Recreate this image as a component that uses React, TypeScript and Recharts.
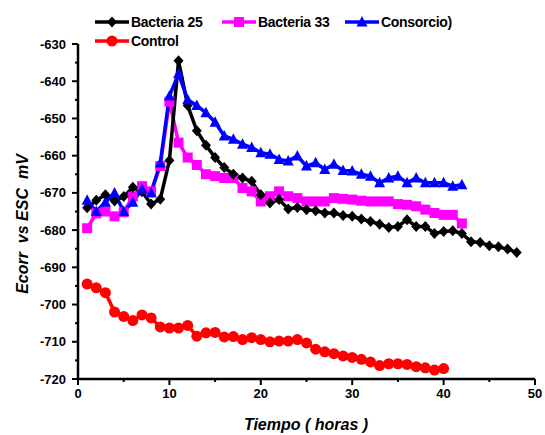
import { Line, LineChart, XAxis, YAxis } from 'recharts';

const hours = [
  1, 2, 3, 4, 5, 6, 7, 8, 9, 10, 11, 12, 13, 14, 15, 16, 17, 18, 19, 20, 21, 22, 23, 24,
  25, 26, 27, 28, 29, 30, 31, 32, 33, 34, 35, 36, 37, 38, 39, 40, 41, 42, 43, 44, 45, 46, 47, 48,
];

const bacteria25 = [
  -674, -672, -670.5, -672.2, -671, -668.5, -669.7, -673, -671.7, -661.3,
  -634.5, -646.5, -653.3, -657.2, -660.5, -663.2, -665, -666, -666.9, -670.5,
  -672.7, -671.8, -674.3, -673.9, -674.5, -674.8, -675.4, -675.4, -676.1, -676.3,
  -677, -677.7, -678.4, -679.3, -679, -677.2, -679, -679, -680.9, -680.4,
  -680.2, -680.9, -683.1, -683.3, -684.2, -684.5, -685.1, -686,
];

const bacteria33 = [
  -679.5, -675.5, -675, -676.3, -675.2, -671, -668.2, -669.6, -662.8, -645.5,
  -656.5, -660.5, -662.5, -665, -665.5, -666, -666, -668.7, -669.6, -672.3,
  -670.9, -669.6, -670.9, -671.4, -672.3, -672.3, -672.3, -671.4, -671.6, -671.8,
  -672.1, -672.3, -672.3, -672.3, -673, -673.2, -673.6, -674.5, -675.4, -675.9,
  -675.9, -678.2,
];

const consorcio = [
  -672, -675, -672.5, -670, -675, -672.5, -669, -670, -662, -644,
  -638, -645, -646.5, -648.5, -651, -654.7, -655.6, -656.9, -657.8, -659.2,
  -659.6, -661, -661.4, -660.1, -662.8, -661.9, -663.7, -662.3, -664, -664.1,
  -665, -665.5, -667.3, -666, -665.5, -667.3, -666, -667.3, -667.3, -667.3,
  -668.2, -667.8,
];

const control = [
  -694.5, -695.5, -696.8, -702, -703.2, -704.3, -702.8, -703.6, -706, -706.3,
  -706.3, -705.6, -708.5, -707.6, -707.5, -708.7, -708.6, -709.4, -708.9, -709.4,
  -710, -709.8, -709.8, -709.4, -710.3, -712, -712.7, -713.2, -713.8, -714.2,
  -714.7, -715.4, -716.4, -715.9, -715.9, -716.1, -716.7, -717, -717.6, -717.2,
];

const xTicks = [0, 5, 10, 15, 20, 25, 30, 35, 40, 45, 50];
const yTicks = [
  -720, -715, -710, -705, -700, -695, -690, -685, -680, -675,
  -670, -665, -660, -655, -650, -645, -640, -635, -630,
];

const data = hours.map((h, i) => ({
  hour: h,
  b25: bacteria25[i],
  b33: bacteria33[i],
  cons: consorcio[i],
  ctrl: control[i],
}));

const FONT = 'Arial, "Liberation Sans", sans-serif';
const PLOT_LEFT = 78;
const PLOT_BOTTOM = 379;

type Kind = 'diamond' | 'square' | 'triangle' | 'circle';

function Marker({ cx, cy, kind, color }: { cx: number; cy: number; kind: Kind; color: string }) {
  if (kind === 'diamond') {
    return <polygon points={`${cx},${cy - 5.5} ${cx + 5},${cy} ${cx},${cy + 5.5} ${cx - 5},${cy}`} fill={color} />;
  }
  if (kind === 'square') {
    return <rect x={cx - 5} y={cy - 5} width={10} height={10} fill={color} />;
  }
  if (kind === 'triangle') {
    return <polygon points={`${cx},${cy - 6} ${cx + 5.5},${cy + 4.5} ${cx - 5.5},${cy + 4.5}`} fill={color} />;
  }
  return <circle cx={cx} cy={cy} r={5.5} fill={color} />;
}

const makeDot = (kind: Kind, color: string) => (p: any) => {
  if (p.cx == null || p.cy == null || p.value == null) return <g key={p.index} />;
  return <Marker key={p.index} cx={p.cx} cy={p.cy} kind={kind} color={color} />;
};

const YTick = (p: any) => {
  const v = p.payload.value;
  const major = v % 10 === 0;
  return (
    <g>
      <line x1={PLOT_LEFT} x2={PLOT_LEFT - (major ? 6 : 3)} y1={p.y} y2={p.y} stroke='#000' strokeWidth={2} />
      {major && (
        <text x={66} y={p.y} dy={4.5} textAnchor='end' fontFamily={FONT} fontWeight='bold' fontSize={13} fill='#000'>
          {v}
        </text>
      )}
    </g>
  );
};

const XTick = (p: any) => {
  const v = p.payload.value;
  const major = v % 10 === 0;
  return (
    <g>
      <line x1={p.x} x2={p.x} y1={PLOT_BOTTOM} y2={PLOT_BOTTOM + (major ? 6 : 3)} stroke='#000' strokeWidth={2} />
      {major && (
        <text x={p.x} y={PLOT_BOTTOM + 19} textAnchor='middle' fontFamily={FONT} fontWeight='bold' fontSize={13} fill='#000'>
          {v}
        </text>
      )}
    </g>
  );
};

const YTitle = () => (
  <text
    x={0}
    y={0}
    transform='translate(28 224) rotate(-90)'
    textAnchor='middle'
    fontFamily={FONT}
    fontWeight='bold'
    fontStyle='italic'
    fontSize={16}
    fill='#000'
    style={{ whiteSpace: 'pre' }}
  >
    {'Ecorr  vs ESC  mV'}
  </text>
);

const XTitle = () => (
  <text
    x={306}
    y={430}
    textAnchor='middle'
    fontFamily={FONT}
    fontWeight='bold'
    fontStyle='italic'
    fontSize={16}
    fill='#000'
  >
    Tiempo ( horas )
  </text>
);

const legendItems: { name: string; color: string; kind: Kind; left: number; top: number }[] = [
  { name: 'Bacteria 25', color: '#000000', kind: 'diamond', left: 95, top: 22 },
  { name: 'Bacteria 33', color: '#ff00ff', kind: 'square', left: 222, top: 22 },
  { name: 'Consorcio)', color: '#0000ff', kind: 'triangle', left: 345, top: 22 },
  { name: 'Control', color: '#ff0000', kind: 'circle', left: 95, top: 41 },
];

function ChartLegend() {
  return (
    <>
      {legendItems.map((it) => (
        <div
          key={it.name}
          style={{
            position: 'absolute',
            left: it.left,
            top: it.top - 9,
            height: 18,
            display: 'flex',
            alignItems: 'center',
            fontFamily: FONT,
            fontWeight: 'bold',
            fontSize: 14,
            letterSpacing: -0.3,
            color: '#000',
          }}
        >
          <svg width={34} height={14} style={{ marginRight: 2 }}>
            <line x1={0} x2={34} y1={7} y2={7} stroke={it.color} strokeWidth={3.5} />
            <Marker cx={17} cy={7} kind={it.kind} color={it.color} />
          </svg>
          <span>{it.name}</span>
        </div>
      ))}
    </>
  );
}

export default function App() {
  return (
    <div style={{ position: 'absolute', left: 0, top: 0, width: 545, height: 435, background: '#fff' }}>
      <LineChart width={545} height={435} data={data} margin={{ top: 44, right: 10, bottom: 0, left: 0 }}>
        <XAxis
          dataKey='hour'
          type='number'
          domain={[0, 50]}
          ticks={xTicks}
          interval={0}
          height={56}
          tickLine={false}
          axisLine={{ stroke: '#000', strokeWidth: 2.5 }}
          tick={<XTick />}
          label={<XTitle />}
        />
        <YAxis
          type='number'
          domain={[-720, -630]}
          ticks={yTicks}
          interval={0}
          width={78}
          tickLine={false}
          axisLine={{ stroke: '#000', strokeWidth: 2.5 }}
          tick={<YTick />}
          label={<YTitle />}
        />
        <Line dataKey='ctrl' name='Control' stroke='#ff0000' strokeWidth={3.5} dot={makeDot('circle', '#ff0000')} isAnimationActive={false} />
        <Line dataKey='b33' name='Bacteria 33' stroke='#ff00ff' strokeWidth={3.5} dot={makeDot('square', '#ff00ff')} isAnimationActive={false} />
        <Line dataKey='b25' name='Bacteria 25' stroke='#000000' strokeWidth={3.5} dot={makeDot('diamond', '#000000')} isAnimationActive={false} />
        <Line dataKey='cons' name='Consorcio)' stroke='#0000ff' strokeWidth={3.5} dot={makeDot('triangle', '#0000ff')} isAnimationActive={false} />
      </LineChart>
      <ChartLegend />
    </div>
  );
}
